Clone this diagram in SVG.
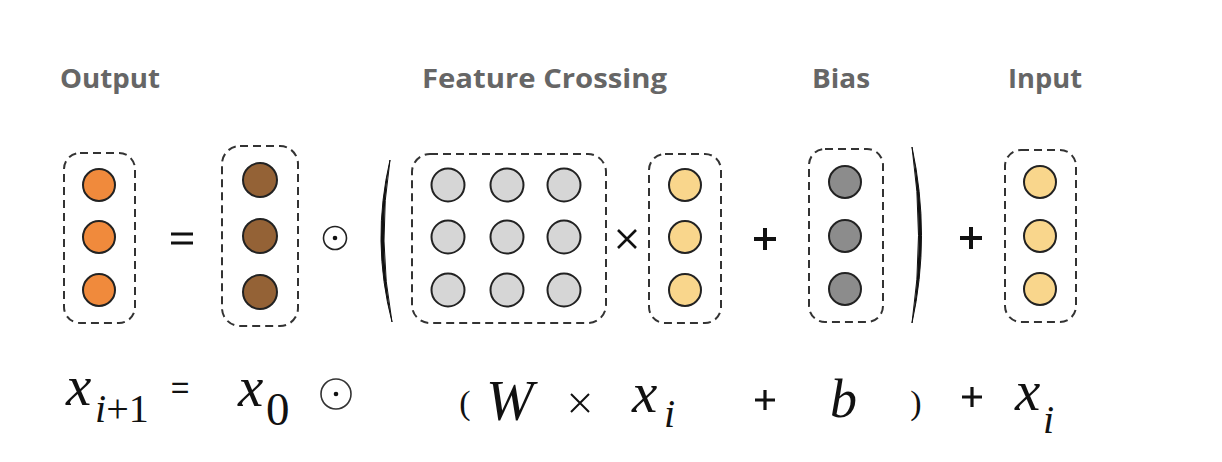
<svg xmlns="http://www.w3.org/2000/svg" width="1222" height="462" viewBox="0 0 1222 462">
<style>
.title{font-family:"Open Sans","Liberation Sans",sans-serif;font-weight:700;font-size:27px;fill:#666666}
.box{fill:none;stroke:#333333;stroke-width:2;stroke-dasharray:8 5}
.c{stroke:#222222;stroke-width:2}
.orange{fill:#F08A3C}
.brown{fill:#946236}
.light{fill:#D6D6D6}
.yellow{fill:#F9D68C}
.dark{fill:#8C8C8C}
.m{font-family:"Liberation Serif","Times New Roman",serif;font-style:italic;fill:#111111}
.u{font-family:"Liberation Serif","Times New Roman",serif;fill:#111111}
.s{font-family:"Liberation Sans",Arial,sans-serif;fill:#111111}
</style>
<rect width="1222" height="462" fill="#ffffff"/>
<g id="titles">
<text class="title" x="60" y="88" textLength="100" lengthAdjust="spacingAndGlyphs">Output</text>
<text class="title" x="422" y="88" textLength="245" lengthAdjust="spacingAndGlyphs">Feature Crossing</text>
<text class="title" x="812" y="88" textLength="58" lengthAdjust="spacingAndGlyphs">Bias</text>
<text class="title" x="1008" y="88" textLength="74" lengthAdjust="spacingAndGlyphs">Input</text>
</g>
<g id="output">
<rect class="box" x="64" y="153" width="71" height="170" rx="16"/>
<circle class="c orange" cx="99" cy="185" r="16"/>
<circle class="c orange" cx="99" cy="237" r="16"/>
<circle class="c orange" cx="99" cy="290" r="16"/>
</g>
<g id="x0">
<rect class="box" x="222" y="146" width="76" height="180" rx="18"/>
<circle class="c brown" cx="260" cy="180" r="17"/>
<circle class="c brown" cx="260" cy="236" r="17"/>
<circle class="c brown" cx="260" cy="292" r="17"/>
</g>
<g id="weights">
<rect class="box" x="412" y="154" width="194" height="169" rx="18"/>
<circle class="c light" cx="448" cy="185" r="16.5"/>
<circle class="c light" cx="507" cy="185" r="16.5"/>
<circle class="c light" cx="564" cy="185" r="16.5"/>
<circle class="c light" cx="448" cy="237" r="16.5"/>
<circle class="c light" cx="507" cy="237" r="16.5"/>
<circle class="c light" cx="564" cy="237" r="16.5"/>
<circle class="c light" cx="448" cy="290" r="16.5"/>
<circle class="c light" cx="507" cy="290" r="16.5"/>
<circle class="c light" cx="564" cy="290" r="16.5"/>
</g>
<g id="xi">
<rect class="box" x="649" y="154" width="72" height="169" rx="16"/>
<circle class="c yellow" cx="685" cy="185" r="16"/>
<circle class="c yellow" cx="685" cy="237" r="16"/>
<circle class="c yellow" cx="685" cy="290" r="16"/>
</g>
<g id="bias">
<rect class="box" x="809" y="149" width="74" height="173" rx="16"/>
<circle class="c dark" cx="845" cy="182" r="16"/>
<circle class="c dark" cx="845" cy="236" r="16"/>
<circle class="c dark" cx="845" cy="289" r="16"/>
</g>
<g id="input">
<rect class="box" x="1005" y="150" width="71" height="172" rx="16"/>
<circle class="c yellow" cx="1040" cy="182" r="16"/>
<circle class="c yellow" cx="1040" cy="236" r="16"/>
<circle class="c yellow" cx="1040" cy="289" r="16"/>
</g>
<g id="operators">
<path d="M171 234 H193 M171 243 H193" stroke="#111" stroke-width="3"/>
<circle cx="335" cy="238" r="11.5" fill="none" stroke="#222" stroke-width="1.6"/>
<circle cx="335" cy="238" r="2.3" fill="#111"/>
<path d="M390 160 Q371 241 392 322 Q377 241 390 160 Z" fill="#111" stroke="#111" stroke-width="1"/>
<path d="M618 230 L636 248 M636 230 L618 248" stroke="#111" stroke-width="2.6"/>
<path d="M754 239 H776 M765 228 V250" stroke="#111" stroke-width="4"/>
<path d="M912 147 Q931 236 912 323 Q925 236 912 147 Z" fill="#111" stroke="#111" stroke-width="1"/>
<path d="M960 238 H982 M971 227 V249" stroke="#111" stroke-width="4"/>
</g>
<g id="formula">
<text class="m" x="66" y="405" font-size="57">x</text>
<text x="95" y="422" font-size="40"><tspan class="m">i</tspan><tspan class="u">+1</tspan></text>
<text class="s" x="180" y="398" font-size="32" text-anchor="middle">=</text>
<text class="m" x="238" y="406" font-size="57">x</text>
<text class="u" x="266" y="425" font-size="47">0</text>
<circle cx="336" cy="394" r="15" fill="none" stroke="#333" stroke-width="1.6"/>
<circle cx="336" cy="394" r="2.3" fill="#111"/>
<text class="u" x="465" y="414" font-size="34" text-anchor="middle">(</text>
<text class="m" x="486" y="420" font-size="57">W</text>
<path d="M571 394 L589 412 M589 394 L571 412" stroke="#111" stroke-width="2"/>
<text class="m" x="632" y="412" font-size="57">x</text>
<text class="m" x="664" y="427" font-size="40">i</text>
<path d="M755 400 H775 M765 390 V410" stroke="#111" stroke-width="3.2"/>
<text class="m" x="830" y="417" font-size="54">b</text>
<text class="u" x="916" y="414" font-size="34" text-anchor="middle">)</text>
<path d="M962 397 H982 M972 387 V407" stroke="#111" stroke-width="3.2"/>
<text class="m" x="1015" y="410" font-size="57">x</text>
<text class="m" x="1043" y="433" font-size="40">i</text>
</g>
</svg>
